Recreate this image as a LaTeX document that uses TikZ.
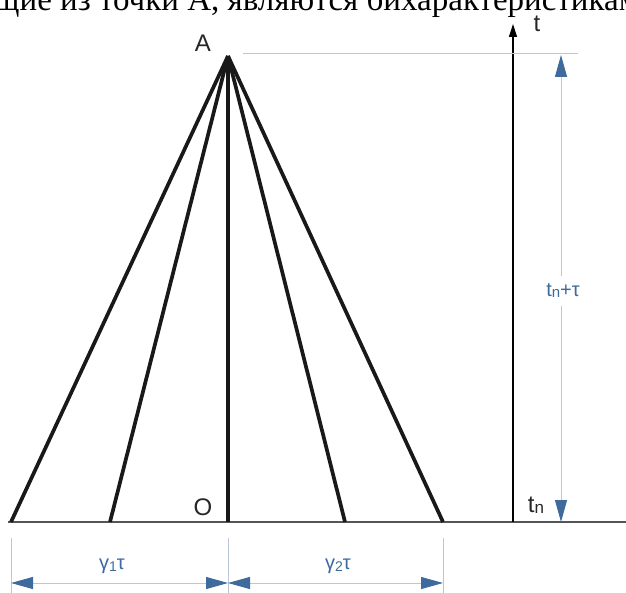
\documentclass[tikz,border=0pt]{standalone}
\usepackage{fontspec}
\setmainfont{Liberation Serif}
\setsansfont{Liberation Sans}
\usetikzlibrary{arrows.meta}
\definecolor{dimblue}{HTML}{3E6A9C}
\definecolor{lightline}{HTML}{BCC6DA}
\definecolor{baseg}{HTML}{555555}
\tikzset{
  fan/.style={line width=3.7pt, black!90},
  dimline/.style={lightline, line width=1pt},
  dimarrow/.style={lightline, line width=1pt, {Triangle[length=22pt,width=12pt,fill=dimblue,color=dimblue]}-{Triangle[length=22pt,width=12pt,fill=dimblue,color=dimblue]}},
  lbl/.style={font=\sffamily\fontsize{24}{24}\selectfont, text=black!85, inner sep=1pt},
  dimlbl/.style={font=\sffamily\fontsize{20}{20}\selectfont, text=dimblue, inner sep=2pt}
}
\begin{document}
\begin{tikzpicture}[x=1pt,y=-1pt]
\useasboundingbox (0,0) rectangle (626,593);
% clipped text line at top
\node[anchor=base west, inner sep=0pt, font=\fontsize{33}{33}\selectfont] (cap) at (-6,11) {щие из точки А, являются бихарактеристикам};
% points
\coordinate (A) at (228,56);
\coordinate (b1) at (11,522);
\coordinate (b2) at (110,522);
\coordinate (b3) at (228,522);
\coordinate (b4) at (345,522);
\coordinate (b5) at (443,522);
\coordinate (bl) at (8,522);
\coordinate (br) at (626,522);
% baseline
\draw[baseg, line width=1.8pt] (bl) -- (br);
% fan
\foreach \p in {b1,b2,b3,b4,b5} \draw[fan] (A) -- (\p);
% t axis
\coordinate (t0) at (513,522);
\coordinate (t1) at (513,24);
\draw[black, line width=1.2pt, -{Triangle[length=13pt,width=8pt]}] (t0) -- (t1);
\node[lbl] (tlab) at (537,24) {t};
% labels
\node[lbl] (Alab) at (203,43) {A};
\node[lbl] (Olab) at (203,507) {O};
\node[lbl] (tnlab) at (536,505) {t\raisebox{-1pt}{\fontsize{17}{17}\selectfont n}};
% top horizontal light line
\coordinate (h0) at (243,54);
\coordinate (h1) at (578,54);
\draw[dimline] (h0) -- (h1);
% vertical dimension
\coordinate (v0) at (561,55);
\coordinate (v1) at (561,522);
\draw[dimarrow] (v0) -- (v1);
\node[dimlbl, fill=white, inner ysep=8pt] (vlab) at (563,291) {t\raisebox{-1pt}{\fontsize{15}{15}\selectfont n}+τ};
% extension lines
\coordinate (e1a) at (11,538); \coordinate (e1b) at (11,593);
\coordinate (e2a) at (228,538); \coordinate (e2b) at (228,593);
\coordinate (e3a) at (443,538); \coordinate (e3b) at (443,593);
\draw[dimline] (e1a) -- (e1b);
\draw[dimline] (e2a) -- (e2b);
\draw[dimline] (e3a) -- (e3b);
% horizontal dimensions
\coordinate (d1) at (11,583); \coordinate (d2) at (228,583); \coordinate (d3) at (443,583);
\draw[dimarrow] (d1) -- (d2);
\draw[dimarrow] (d2) -- (d3);
\node[dimlbl] (g1) at (112,566) {γ\raisebox{-2pt}{\fontsize{14}{14}\selectfont 1}τ};
\node[dimlbl] (g2) at (338,566) {γ\raisebox{-2pt}{\fontsize{14}{14}\selectfont 2}τ};
\end{tikzpicture}
\end{document}
